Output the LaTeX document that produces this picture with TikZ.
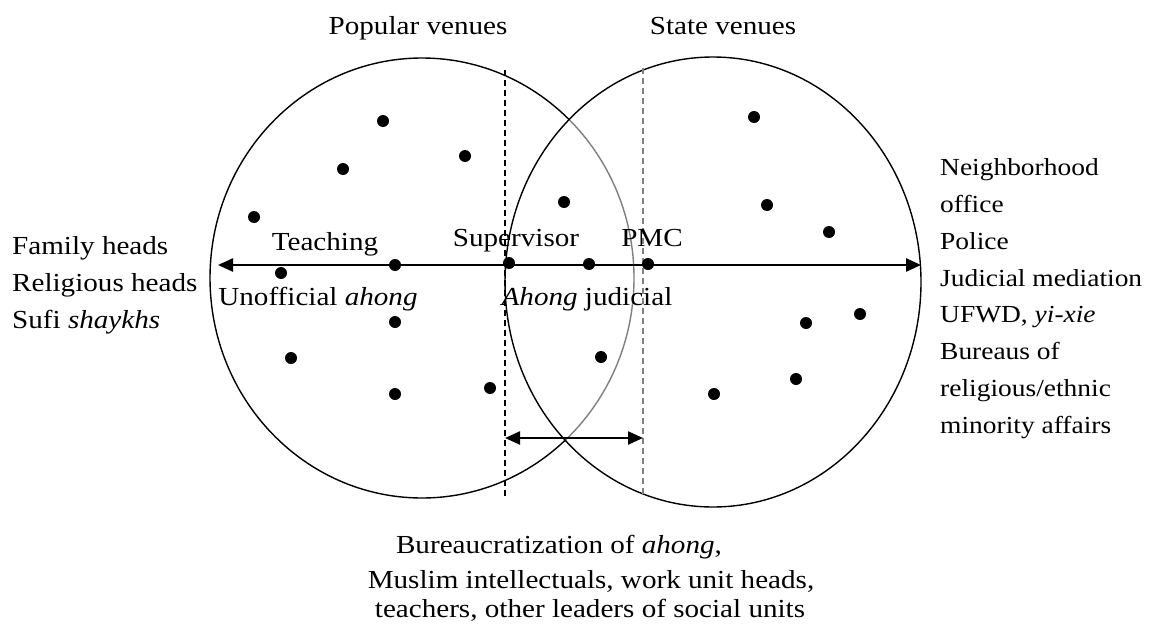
\documentclass[tikz,border=0pt]{standalone}
\usepackage{fontspec}
\setmainfont{Liberation Serif}[FakeStretch=1.12]
\usetikzlibrary{arrows.meta}
\begin{document}
\begin{tikzpicture}[x=1pt,y=-1pt,
  txt/.style={inner sep=0pt,font=\fontsize{26}{37}\selectfont},
  lt/.style={txt,anchor=base west},
  rt/.style={inner sep=0pt,anchor=base west,font=\fontsize{24.5}{37}\selectfont},
  ct/.style={txt,anchor=base},
  dot/.style={circle,fill=black,inner sep=0pt,minimum size=12pt},
  ring/.style={line width=1.4pt},
  bigarrow/.style={line width=2.4pt,{Triangle[length=15pt,width=13pt]}-{Triangle[length=15pt,width=13pt]}},
  blackdash/.style={line width=1.4pt,dash pattern=on 6pt off 4pt},
  graydash/.style={line width=1.4pt,dash pattern=on 6pt off 4pt,draw=gray}]
\useasboundingbox (0,0) rectangle (1153,626);
% ellipses
\draw[ring] (422,278) ellipse [x radius=212pt, y radius=220pt];
\begin{scope}
  \clip (713,282) ellipse [x radius=208pt, y radius=225pt];
  \draw[line width=2.8pt,white] (422,278) ellipse [x radius=212pt, y radius=220pt];
  \draw[ring,gray] (422,278) ellipse [x radius=212pt, y radius=220pt];
\end{scope}
\draw[ring] (713,282) ellipse [x radius=208pt, y radius=225pt];
% dashed lines
\coordinate (dlt) at (505,70);
\coordinate (dlb) at (505,498);
\coordinate (drt) at (643,68);
\coordinate (drb) at (643,498);
\draw[blackdash] (dlt) -- (dlb);
\draw[graydash] (drt) -- (drb);
% arrows
\coordinate (axL) at (218,265);
\coordinate (axR) at (921,265);
\draw[bigarrow] (axL) -- (axR);
\coordinate (brL) at (505,438);
\coordinate (brR) at (643,438);
\draw[bigarrow] (brL) -- (brR);
% dots
\node[dot] (d1) at (383,121) {};
\node[dot] (d2) at (343,169) {};
\node[dot] (d3) at (465,156) {};
\node[dot] (d4) at (254,217) {};
\node[dot] (d5) at (281,273) {};
\node[dot] (d6) at (395,265) {};
\node[dot] (d7) at (395,322) {};
\node[dot] (d8) at (291,358) {};
\node[dot] (d9) at (395,394) {};
\node[dot] (d10) at (490,388) {};
\node[dot] (d11) at (509,263) {};
\node[dot] (d12) at (564,202) {};
\node[dot] (d13) at (589,264) {};
\node[dot] (d14) at (648,264) {};
\node[dot] (d15) at (601,357) {};
\node[dot] (d16) at (754,117) {};
\node[dot] (d17) at (767,205) {};
\node[dot] (d18) at (829,232) {};
\node[dot] (d19) at (806,323) {};
\node[dot] (d20) at (860,314) {};
\node[dot] (d21) at (796,379) {};
\node[dot] (d22) at (714,394) {};
% titles
\node[ct] (tpop) at (418,35) {Popular venues};
\node[ct] (tsta) at (723,35) {State venues};
% inner labels
\node[ct] (teach) at (325,250) {Teaching};
\node[ct] (superv) at (516,246) {Supervisor};
\node[ct] (pmc) at (652,246) {PMC};
\node[ct] (unoff) at (318,305) {Unofficial \textit{ahong}};
\node[ct] (ajud) at (587,305) {\textit{Ahong} judicial};
% left list
\node[lt] (l1) at (12,254) {Family heads};
\node[lt] (l2) at (12,291) {Religious heads};
\node[lt] (l3) at (12,328) {Sufi \textit{shaykhs}};
% right list
\node[rt] (r1) at (940,175) {Neighborhood};
\node[rt] (r2) at (940,212) {office};
\node[rt] (r3) at (940,249) {Police};
\node[rt] (r4) at (940,286) {Judicial mediation};
\node[rt] (r5) at (940,322) {UFWD, \textit{yi-xie}};
\node[rt] (r6) at (940,359) {Bureaus of};
\node[rt] (r7) at (940,396) {religious/ethnic};
\node[rt] (r8) at (940,433) {minority affairs};
% bottom text
\node[ct] (b1) at (559,553) {Bureaucratization of \textit{ahong},};
\node[ct] (b2) at (591,588) {Muslim intellectuals, work unit heads,};
\node[ct] (b3) at (590,617) {teachers, other leaders of social units};
\end{tikzpicture}
\end{document}
